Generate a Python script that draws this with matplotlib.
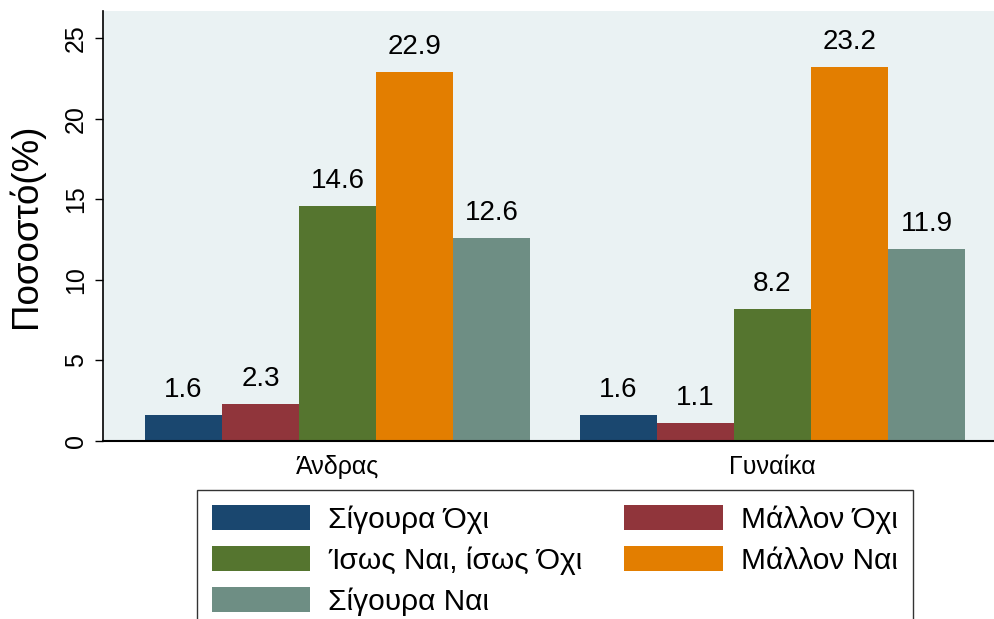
import numpy as np
import matplotlib.pyplot as plt
from matplotlib.patches import Patch

plt.rcParams['font.family'] = ['Liberation Sans', 'DejaVu Sans']

# Datos
grupos = ['Άνδρας', 'Γυναίκα']
respuestas = ['Σίγουρα Όχι', 'Μάλλον Όχι', 'Ίσως Ναι, ίσως Όχι', 'Μάλλον Ναι', 'Σίγουρα Ναι']
valores_andras = [1.6, 2.3, 14.6, 22.9, 12.6]
valores_gynaika = [1.6, 1.1, 8.2, 23.2, 11.9]
colores = ['#1a476f', '#90353b', '#55752f', '#e37e00', '#6e8e84']

valores = np.array([valores_andras, valores_gynaika])

fig = plt.figure(figsize=(9.95, 6.19), dpi=100)
ax = fig.add_axes([0.1035, 0.2876, 0.8965, 0.6946])
ax.set_facecolor('#eaf2f3')

ancho = 1.0
desplaz = 5.65
for j, (resp, col) in enumerate(zip(respuestas, colores)):
    xs = np.arange(len(grupos)) * desplaz + j
    barras = ax.bar(xs, valores[:, j], width=ancho, color=col, label=resp)
    for b, v in zip(barras, valores[:, j]):
        ax.text(b.get_x() + b.get_width() / 2, v + 0.75, f'{v:.1f}',
                ha='center', va='bottom', fontsize=20)

ax.set_xlim(-1.045, 10.54)
ax.set_ylim(0, 26.7)
ax.set_xticks(np.arange(len(grupos)) * desplaz + 2)
ax.set_xticklabels(grupos, fontsize=18)
ax.set_yticks([0, 5, 10, 15, 20, 25])
ax.set_yticklabels(['0', '5', '10', '15', '20', '25'], fontsize=18, rotation=90, va='center')
ax.tick_params(axis='x', length=0, pad=10)
ax.tick_params(axis='y', length=6, width=1, pad=5)
ax.set_ylabel('Ποσοστό(%)', fontsize=26.5, labelpad=14)
for s in ['top', 'right']:
    ax.spines[s].set_visible(False)
ax.spines['left'].set_linewidth(1.2)
ax.spines['bottom'].set_linewidth(1.5)

# Leyenda por filas como en la referencia
orden = [0, 2, 4, 1, 3]
manijas = [Patch(facecolor=colores[i], edgecolor='none') for i in orden]
leg = fig.legend(manijas, [respuestas[i] for i in orden], ncol=2,
                 loc='upper left', bbox_to_anchor=(197 / 995, 1 - 490 / 619),
                 fontsize=21.5, frameon=True, fancybox=False, edgecolor='black',
                 handlelength=3.3, handleheight=0.94, handletextpad=0.6,
                 columnspacing=1.4, labelspacing=0.4, borderpad=0.5,
                 borderaxespad=0)
leg.get_frame().set_linewidth(1.0)

fig.savefig('out.png', dpi=100)
